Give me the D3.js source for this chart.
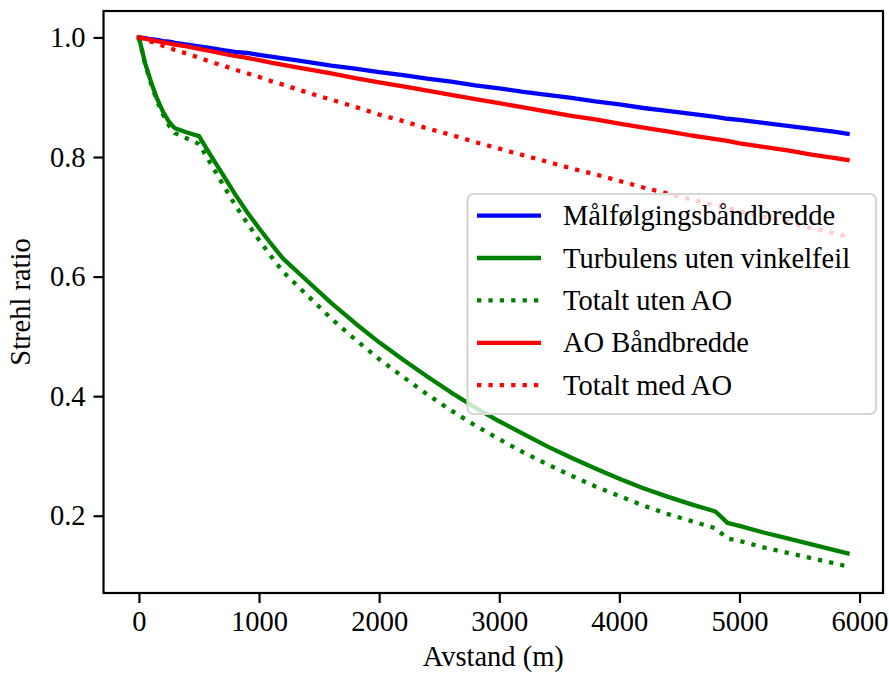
<!DOCTYPE html>
<html>
<head>
<meta charset="utf-8">
<script src="https://cdn.jsdelivr.net/npm/d3@7"></script>
<style>
  html, body { margin: 0; padding: 0; background: #fff; }
  svg { display: block; }
  svg text { font-family: "Liberation Serif", "Times New Roman", Times, "DejaVu Serif", serif !important; fill: #000; }
</style>
</head>
<body>
<svg id="chart" width="889" height="674"></svg>
<script>
// Distance along the path (m)
const distance = [0, 50, 100, 150, 200, 250, 300, 400, 500, 600, 700, 800, 900, 1000, 1100, 1200,
  1400, 1600, 1800, 2000, 2200, 2400, 2600, 2800, 3000, 3200, 3400, 3600, 3800, 4000, 4200,
  4400, 4600, 4800, 4900, 5000, 5200, 5400, 5600, 5800, 5900];

// Strehl ratio per contribution
const malfolging = [1.000, 0.999, 0.997, 0.996, 0.994, 0.993, 0.991, 0.988, 0.985, 0.982, 0.979, 0.976, 0.974, 0.971, 0.968, 0.965,
  0.959, 0.953, 0.948, 0.942, 0.937, 0.931, 0.926, 0.920, 0.915, 0.909, 0.904, 0.899, 0.893, 0.888, 0.882,
  0.877, 0.872, 0.867, 0.864, 0.862, 0.857, 0.852, 0.847, 0.842, 0.839];

const turbulens = [1.000, 0.958, 0.926, 0.898, 0.876, 0.859, 0.848, 0.841, 0.835, 0.802, 0.770, 0.738, 0.708, 0.681, 0.655, 0.630,
  0.593, 0.556, 0.522, 0.490, 0.461, 0.433, 0.406, 0.381, 0.358, 0.337, 0.316, 0.297, 0.279, 0.262, 0.246,
  0.232, 0.219, 0.207, 0.188, 0.183, 0.172, 0.162, 0.152, 0.142, 0.137];

const totaltUtenAO = [1.000, 0.957, 0.923, 0.894, 0.871, 0.853, 0.840, 0.831, 0.822, 0.788, 0.754, 0.720, 0.690, 0.661, 0.634, 0.608,
  0.569, 0.530, 0.495, 0.462, 0.432, 0.403, 0.376, 0.351, 0.328, 0.306, 0.286, 0.267, 0.249, 0.233, 0.217,
  0.203, 0.191, 0.179, 0.162, 0.158, 0.147, 0.138, 0.129, 0.120, 0.115];

const aoBandbredde = [1.000, 0.998, 0.996, 0.994, 0.992, 0.990, 0.988, 0.985, 0.981, 0.977, 0.973, 0.969, 0.966, 0.962, 0.958, 0.954,
  0.947, 0.940, 0.932, 0.925, 0.918, 0.911, 0.904, 0.897, 0.890, 0.883, 0.876, 0.869, 0.863, 0.856, 0.849,
  0.843, 0.836, 0.830, 0.827, 0.823, 0.817, 0.811, 0.804, 0.798, 0.795];

const totaltMedAO = [1.000, 0.997, 0.993, 0.990, 0.986, 0.983, 0.979, 0.973, 0.966, 0.959, 0.953, 0.946, 0.940, 0.934, 0.927, 0.921,
  0.908, 0.896, 0.884, 0.871, 0.860, 0.848, 0.837, 0.825, 0.814, 0.803, 0.792, 0.781, 0.771, 0.760, 0.749,
  0.739, 0.729, 0.719, 0.715, 0.709, 0.700, 0.691, 0.681, 0.672, 0.667];

const seriesLabels = ["Målfølgingsbåndbredde", "Turbulens uten vinkelfeil", "Totalt uten AO", "AO Båndbredde", "Totalt med AO"];
const seriesColors = ["#0000ff", "#008000", "#008000", "#ff0000", "#ff0000"];
const seriesDotted = [false, false, true, false, true];
const seriesValues = [malfolging, turbulens, totaltUtenAO, aoBandbredde, totaltMedAO];

const xTicks = [0, 1000, 2000, 3000, 4000, 5000, 6000];
const yTicks = [0.2, 0.4, 0.6, 0.8, 1.0];
const xLabel = "Avstand (m)";
const yLabel = "Strehl ratio";

// Layout
const plot = { left: 103.5, right: 883, top: 11, bottom: 593 };
const fontSize = 28.5;
const fontFamily = '"Liberation Serif", "Times New Roman", Times, "DejaVu Serif", serif';
const lineW = 4.3;

const svg = d3.select("#chart");

// Axis limits with 5% padding around the data
const xMin = d3.min(distance), xMax = d3.max(distance);
const allY = seriesValues.flat();
const yMin = d3.min(allY), yMax = d3.max(allY);
const xPad = (xMax - xMin) * 0.05, yPad = (yMax - yMin) * 0.05;

const x = d3.scaleLinear().domain([xMin - xPad, xMax + xPad]).range([plot.left, plot.right]);
const y = d3.scaleLinear().domain([yMin - yPad, yMax + yPad]).range([plot.bottom, plot.top]);

// Curves
const line = d3.line().x(d => x(d[0])).y(d => y(d[1]));
const curves = svg.append("g");
seriesValues.forEach((vals, i) => {
  curves.append("path")
    .datum(distance.map((d, j) => [d, vals[j]]))
    .attr("d", line)
    .attr("fill", "none")
    .attr("stroke", seriesColors[i])
    .attr("stroke-width", lineW)
    .attr("stroke-linejoin", "round")
    .attr("stroke-linecap", seriesDotted[i] ? "butt" : "square")
    .attr("stroke-dasharray", seriesDotted[i] ? `${lineW} ${lineW * 1.65}` : null);
});

// Axes
const xAxis = d3.axisBottom(x).tickValues(xTicks).tickFormat(d3.format("d"))
  .tickSize(10).tickPadding(8).tickSizeOuter(0);
const yAxis = d3.axisLeft(y).tickValues(yTicks).tickFormat(d3.format(".1f"))
  .tickSize(10).tickPadding(8).tickSizeOuter(0);

const gx = svg.append("g").attr("transform", `translate(0,${plot.bottom})`).call(xAxis);
const gy = svg.append("g").attr("transform", `translate(${plot.left},0)`).call(yAxis);
[gx, gy].forEach(g => {
  g.attr("font-family", fontFamily).attr("font-size", fontSize);
  g.select(".domain").remove();
  g.selectAll(".tick line").attr("stroke", "#000").attr("stroke-width", 2.2);
  g.selectAll(".tick text").attr("fill", "#000");
});

// Frame
svg.append("rect")
  .attr("x", plot.left).attr("y", plot.top)
  .attr("width", plot.right - plot.left).attr("height", plot.bottom - plot.top)
  .attr("fill", "none").attr("stroke", "#000").attr("stroke-width", 2.2);

// Axis titles
svg.append("text")
  .attr("x", (plot.left + plot.right) / 2).attr("y", 666)
  .attr("text-anchor", "middle")
  .attr("font-family", fontFamily)
  .attr("font-size", fontSize)
  .text(xLabel);

svg.append("text")
  .attr("transform", `translate(30,${(plot.top + plot.bottom) / 2}) rotate(-90)`)
  .attr("text-anchor", "middle")
  .attr("font-family", fontFamily)
  .attr("font-size", fontSize)
  .text(yLabel);

// Legend
const legend = { x: 467.5, y: 194, w: 408.5, h: 220, rowH: 42.4, firstRow: 215.6 };
const lg = svg.append("g");
lg.append("rect")
  .attr("x", legend.x).attr("y", legend.y)
  .attr("width", legend.w).attr("height", legend.h)
  .attr("rx", 6).attr("ry", 6)
  .attr("fill", "#fff").attr("fill-opacity", 0.8)
  .attr("stroke", "#d6d6d6").attr("stroke-width", 2.2);

seriesLabels.forEach((lab, i) => {
  const cy = legend.firstRow + i * legend.rowH;
  lg.append("line")
    .attr("x1", 477).attr("x2", 541).attr("y1", cy).attr("y2", cy)
    .attr("stroke", seriesColors[i]).attr("stroke-width", lineW)
    .attr("stroke-linecap", "butt")
    .attr("stroke-dasharray", seriesDotted[i] ? `${lineW} ${lineW * 1.65}` : null);
  lg.append("text")
    .attr("x", 563).attr("y", cy).attr("dy", "0.34em")
    .attr("font-family", fontFamily)
    .attr("font-size", fontSize)
    .text(lab);
});
</script>
</body>
</html>
